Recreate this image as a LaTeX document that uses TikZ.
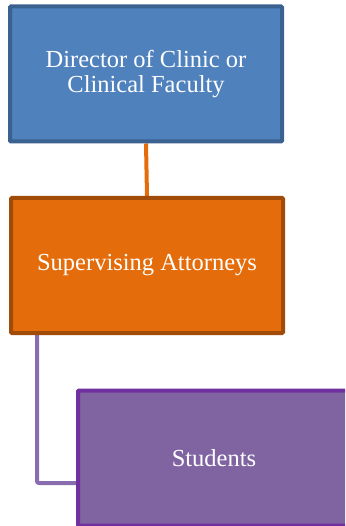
\documentclass[tikz,border=0pt]{standalone}
\usepackage{fontspec}
\setmainfont{Liberation Serif}
\usetikzlibrary{backgrounds}

\definecolor{dirfill}{HTML}{4F81BD}
\definecolor{dirline}{HTML}{3A6190}
\definecolor{supfill}{HTML}{E46C0A}
\definecolor{supline}{HTML}{A04B08}
\definecolor{stufill}{HTML}{8064A2}
\definecolor{stuline}{HTML}{7030A0}
\definecolor{stulink}{HTML}{8A6DAE}

\begin{document}
\begin{tikzpicture}[x=1pt, y=1pt,
  every node/.style={draw, align=center, text=white, line width=4pt, rounded corners=1pt,
    font=\fontsize{24.5}{24.4}\selectfont, minimum width=272pt, minimum height=135pt, inner sep=0pt},
  dirbox/.style={fill=dirfill, draw=dirline},
  supbox/.style={fill=supfill, draw=supline},
  stubox/.style={fill=stufill, draw=stuline},
  link/.style={line width=4pt}
]
\useasboundingbox (0,0) rectangle (345,-526);
\begin{scope}
\clip (0,0) rectangle (345,-526);

\node[dirbox] (dir) at (146,-74) {Director of Clinic or\\Clinical Faculty};
\node[supbox] (sup) at (147,-265.5) {Supervising Attorneys};
\node[stubox] (stu) at (214,-458) {Students};

\begin{scope}[on background layer]
\draw[link, supfill] (dir.south) -- (sup.north);
\draw[link, stulink, rounded corners=2pt] ([xshift=28pt]sup.south west) |- ([yshift=-25pt]stu.west);
\end{scope}
\end{scope}

\end{tikzpicture}
\end{document}
